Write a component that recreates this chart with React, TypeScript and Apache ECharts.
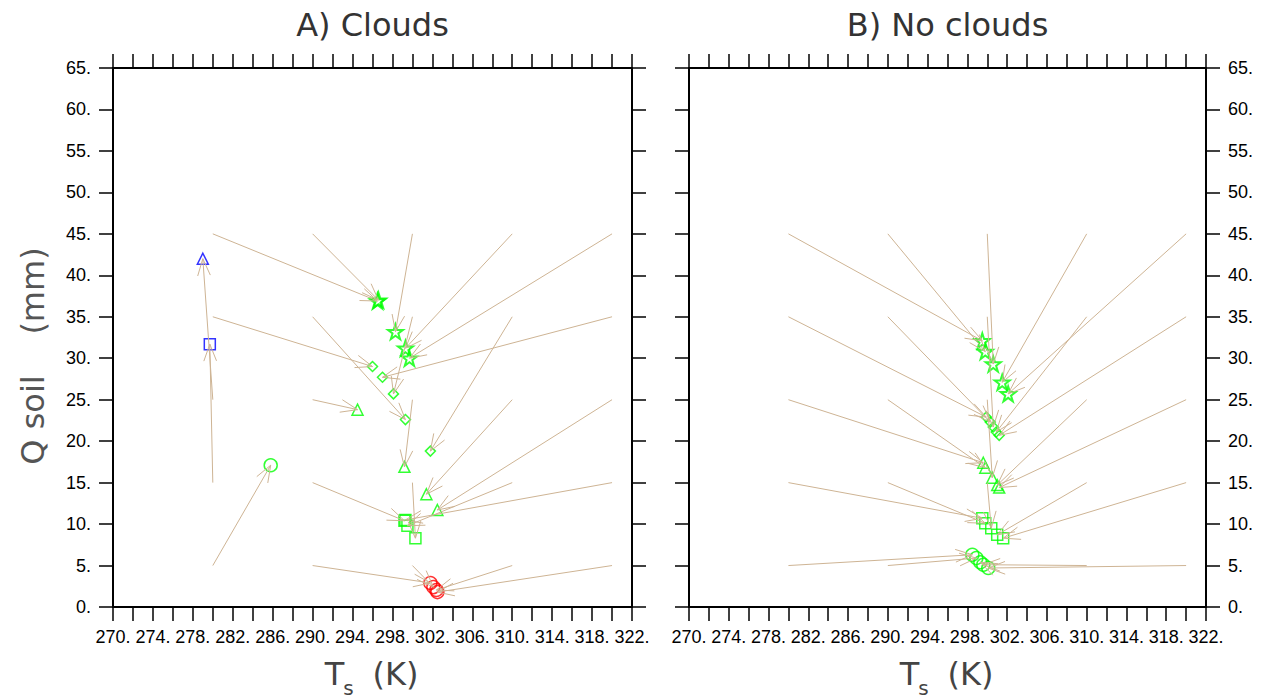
import React, { useEffect, useRef } from "react";
import * as echarts from "echarts";

// ---------------- data ----------------
// Initial conditions (start of each trajectory)
const START_T = [280, 290, 300, 310, 320]; // K
const START_Q = [5, 15, 25, 35, 45]; // mm
// Tick settings
const T_MIN = 270;
const T_MAX = 322;
const T_STEP = 2;
const T_LABEL_STEP = 4;
const Q_MIN = 0;
const Q_MAX = 65;
const Q_STEP = 5;

// Panel A (clouds): end points, rows = START_Q, columns = START_T
const CLOUDS_END_T = [
  [285.8, 301.8, 302.1, 302.4, 302.5],
  [279.7, 299.2, 300.3, 299.5, 299.3],
  [279.0, 294.5, 299.2, 301.4, 302.5],
  [296.0, 299.3, 298.1, 301.8, 297.0],
  [296.5, 296.6, 298.3, 299.3, 299.7],
];
const CLOUDS_END_Q = [
  [17.1, 2.9, 2.4, 2.05, 1.8],
  [31.7, 10.4, 8.3, 9.8, 10.5],
  [42.0, 23.8, 16.9, 13.6, 11.7],
  [29.0, 22.6, 25.7, 18.8, 27.7],
  [36.9, 37.0, 33.2, 31.2, 30.0],
];
const CLOUDS_REGIME = [
  ["moist", "dry", "dry", "dry", "dry"],
  ["cold", "moist", "moist", "moist", "moist"],
  ["cold", "moist", "moist", "moist", "moist"],
  ["moist", "moist", "moist", "moist", "moist"],
  ["moist", "moist", "moist", "moist", "moist"],
];

// Panel B (no clouds)
const NOCLOUDS_END_T = [
  [298.5, 298.9, 299.3, 299.6, 300.1],
  [299.5, 299.8, 300.4, 301.0, 301.6],
  [299.6, 299.8, 300.5, 301.0, 301.2],
  [299.9, 300.3, 300.6, 300.9, 301.2],
  [299.5, 299.8, 300.6, 301.5, 302.1],
];
const NOCLOUDS_END_Q = [
  [6.3, 5.9, 5.4, 5.1, 4.7],
  [10.7, 10.1, 9.5, 8.7, 8.3],
  [17.4, 16.8, 15.6, 14.7, 14.4],
  [22.9, 22.3, 21.7, 21.1, 20.7],
  [32.1, 30.8, 29.3, 27.1, 25.7],
];
const NOCLOUDS_REGIME = [
  ["moist", "moist", "moist", "moist", "moist"],
  ["moist", "moist", "moist", "moist", "moist"],
  ["moist", "moist", "moist", "moist", "moist"],
  ["moist", "moist", "moist", "moist", "moist"],
  ["moist", "moist", "moist", "moist", "moist"],
];

const TITLES = ["A) Clouds", "B) No clouds"];
const Y_TITLE = "Q soil    (mm)";

// ---------------- styles ----------------
const ARROW_COLOR = "rgb(206,180,148)";
const REGIME_COLOR: Record<string, string> = {
  moist: "#00ff00",
  dry: "#ff0000",
  cold: "#0000ff",
};
const STAR =
  "path://M50,0 L61.8,35.1 L98.9,35.1 L68.9,56.9 L80.3,92.1 L50,70.4 L19.7,92.1 L31.1,56.9 L1.1,35.1 L38.2,35.1 Z";
const ROW_SYMBOL = ["circle", "rect", "triangle", "diamond", STAR];
const ROW_SIZE = [13, 11, 11, 10, 15];
const ROW_BORDER = [1.5, 1.5, 1.5, 1.5, 2];

const FONT = "Liberation Sans";
const TITLE_FONT = "DejaVu Sans";

function buildArrows(endT: number[][], endQ: number[][]) {
  const out: number[][] = [];
  START_Q.forEach((q0, r) =>
    START_T.forEach((t0, c) => out.push([t0, q0, endT[r][c], endQ[r][c]]))
  );
  return out;
}

function buildMarkers(endT: number[][], endQ: number[][], regime: string[][]) {
  const out: any[] = [];
  START_Q.forEach((_q0, r) =>
    START_T.forEach((_t0, c) =>
      out.push({
        value: [endT[r][c], endQ[r][c]],
        symbol: ROW_SYMBOL[r],
        symbolSize: ROW_SIZE[r],
        itemStyle: {
          color: "rgba(0,0,0,0)",
          borderColor: REGIME_COLOR[regime[r][c]],
          borderWidth: ROW_BORDER[r],
        },
      })
    )
  );
  return out;
}

function arrowRender(params: any, api: any) {
  const p0 = api.coord([api.value(0), api.value(1)]);
  const p1 = api.coord([api.value(2), api.value(3)]);
  const ang = Math.atan2(p1[1] - p0[1], p1[0] - p0[0]);
  const L = 18;
  const a = 0.36;
  const h1 = [p1[0] - L * Math.cos(ang - a), p1[1] - L * Math.sin(ang - a)];
  const h2 = [p1[0] - L * Math.cos(ang + a), p1[1] - L * Math.sin(ang + a)];
  return {
    type: "group",
    children: [
      {
        type: "line",
        shape: { x1: p0[0], y1: p0[1], x2: p1[0], y2: p1[1] },
        style: { stroke: ARROW_COLOR, lineWidth: 1 },
      },
      {
        type: "polyline",
        shape: { points: [h1, p1, h2] },
        style: { stroke: ARROW_COLOR, fill: null, lineWidth: 1 },
      },
    ],
  };
}

const GRIDS = [
  { left: 113, top: 68, width: 519, height: 539 },
  { left: 689, top: 68, width: 517, height: 539 },
];

export default function App() {
  const ref = useRef<HTMLDivElement>(null);
  useEffect(() => {
    document.body.style.margin = "0";
    const chart = echarts.init(ref.current!, null, { renderer: "svg" });

    const axisLine = { show: true, onZero: false, lineStyle: { color: "#000", width: 2 } };
    const axisTick = { show: true, inside: false, length: 14, lineStyle: { color: "#000", width: 1.5 } };

    const xAxes: any[] = [];
    const yAxes: any[] = [];
    GRIDS.forEach((_g, i) => {
      const xBase = {
        type: "value",
        gridIndex: i,
        min: T_MIN,
        max: T_MAX,
        interval: T_STEP,
        splitLine: { show: false },
        axisLine,
        axisTick,
      };
      xAxes.push({
        ...xBase,
        position: "bottom",
        axisLabel: {
          show: true,
          margin: 21,
          fontSize: 18,
          fontFamily: FONT,
          color: "#000",
          showMinLabel: true,
          showMaxLabel: true,
          formatter: (v: number) =>
            Math.round(v - T_MIN) % T_LABEL_STEP === 0 ? v + "." : "",
        },
      });
      xAxes.push({ ...xBase, position: "top", axisLabel: { show: false } });
      const yBase = {
        type: "value",
        gridIndex: i,
        min: Q_MIN,
        max: Q_MAX,
        interval: Q_STEP,
        splitLine: { show: false },
        axisLine,
        axisTick,
      };
      const labelStyle = {
        margin: 22,
        fontSize: 18,
        fontFamily: FONT,
        color: "#000",
        showMinLabel: true,
        showMaxLabel: true,
        formatter: (v: number) => v + ".",
      };
      yAxes.push({ ...yBase, position: "left", axisLabel: { show: i === 0, ...labelStyle } });
      yAxes.push({ ...yBase, position: "right", axisLabel: { show: i === 1, ...labelStyle } });
    });

    const panels = [
      { endT: CLOUDS_END_T, endQ: CLOUDS_END_Q, regime: CLOUDS_REGIME },
      { endT: NOCLOUDS_END_T, endQ: NOCLOUDS_END_Q, regime: NOCLOUDS_REGIME },
    ];
    const series: any[] = [];
    panels.forEach((p, i) => {
      series.push({
        type: "scatter",
        xAxisIndex: i * 2,
        yAxisIndex: i * 2,
        z: 2,
        data: buildMarkers(p.endT, p.endQ, p.regime),
      });
      series.push({
        type: "custom",
        xAxisIndex: i * 2,
        yAxisIndex: i * 2,
        z: 3,
        renderItem: arrowRender,
        encode: { x: [0, 2], y: [1, 3] },
        data: buildArrows(p.endT, p.endQ),
      });
    });

    const graphic: any[] = [];
    GRIDS.forEach((g, i) => {
      const cx = g.left + g.width / 2;
      graphic.push({
        type: "text",
        x: cx,
        y: 25,
        style: {
          text: TITLES[i],
          fontSize: 32,
          fontFamily: TITLE_FONT,
          fill: "#333",
          textAlign: "center",
          textVerticalAlign: "middle",
        },
      });
      graphic.push({
        type: "text",
        x: cx - 38,
        y: 674,
        style: {
          text: "T",
          fontSize: 32,
          fontFamily: TITLE_FONT,
          fill: "#444",
          textAlign: "center",
          textVerticalAlign: "middle",
        },
      });
      graphic.push({
        type: "text",
        x: cx - 24,
        y: 688,
        style: {
          text: "s",
          fontSize: 20,
          fontFamily: TITLE_FONT,
          fill: "#444",
          textAlign: "center",
          textVerticalAlign: "middle",
        },
      });
      graphic.push({
        type: "text",
        x: cx + 23,
        y: 674,
        style: {
          text: "(K)",
          fontSize: 32,
          fontFamily: TITLE_FONT,
          fill: "#444",
          textAlign: "center",
          textVerticalAlign: "middle",
        },
      });
    });
    graphic.push({
      type: "text",
      x: 33,
      y: 356,
      rotation: Math.PI / 2,
      style: {
        text: Y_TITLE,
        fontSize: 32,
        fontFamily: TITLE_FONT,
        fill: "#555",
        textAlign: "center",
        textVerticalAlign: "middle",
      },
    });

    chart.setOption({
      animation: false,
      backgroundColor: "#fff",
      grid: GRIDS.map((g) => ({ ...g, containLabel: false })),
      xAxis: xAxes,
      yAxis: yAxes,
      series,
      graphic,
    });
    return () => chart.dispose();
  }, []);
  return <div ref={ref} style={{ width: 1273, height: 700 }} />;
}
